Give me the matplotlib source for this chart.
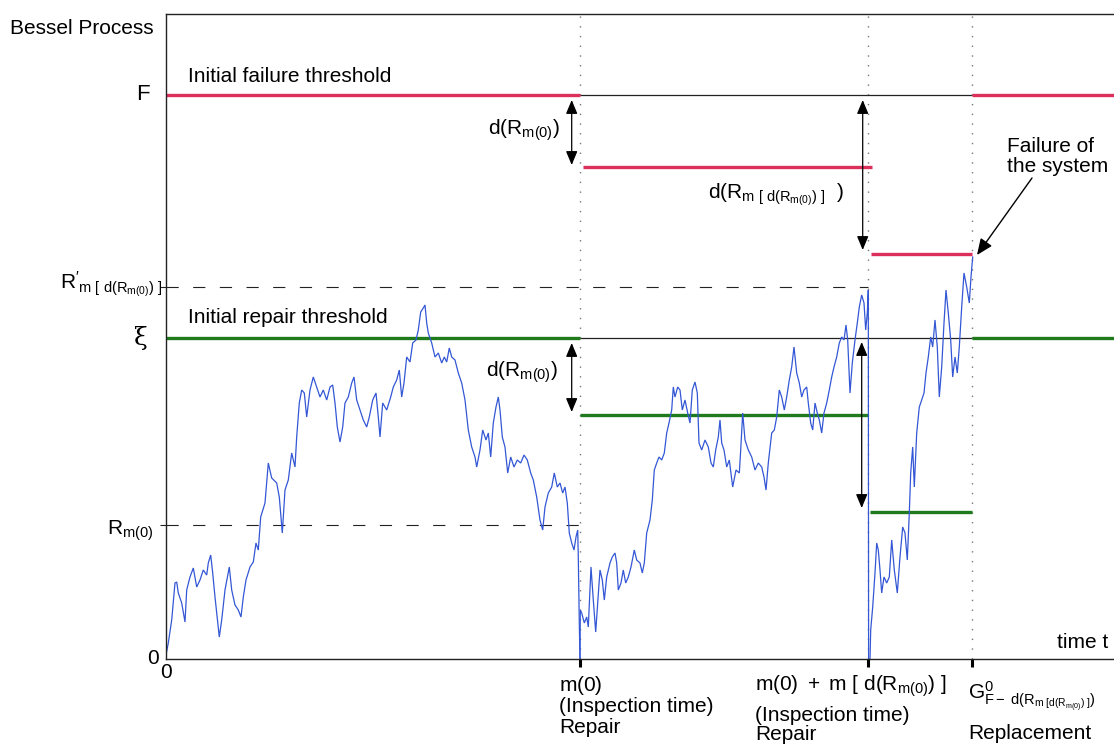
import matplotlib
matplotlib.use("Agg")
import matplotlib.pyplot as plt

plt.rcParams['font.family'] = ['Liberation Sans', 'DejaVu Sans']
plt.rcParams['mathtext.fontset'] = 'custom'
plt.rcParams['mathtext.rm'] = 'Liberation Sans'
plt.rcParams['mathtext.it'] = 'Liberation Sans:italic'
plt.rcParams['mathtext.bf'] = 'Liberation Sans:bold'

# ---------------- data (time, process value) ----------------
seg1_t = [0, 2.3, 5.7, 9, 10.7, 12.3, 15.7, 19, 20.7, 24, 27.3, 30.7, 34, 37.3, 40.7, 42.3, 44.7, 46.7,
          49, 51.3, 53.3, 55.7, 59, 63.3, 65.7, 69, 72.3, 75, 77.3, 80, 84, 87.3, 90, 92.3, 94.7, 99,
          102.3, 105.7, 110.7, 113.3, 116.3, 119, 122.3, 125.7, 129, 130.7, 133.3, 135.7, 138.3,
          140.7, 144, 147.3, 150.7, 154, 157.3, 160.7, 164, 166.7, 169,
          171.3, 174, 176.7, 179, 182.3, 185.7, 188, 190.7, 194, 197.3,
          200.7, 203.3, 206.7, 210, 212.3, 214, 216.7, 220.7, 224.7, 227.3,
          230.7, 233.3, 235.7, 238, 240.7, 244, 246.7, 250, 252.3, 254.7,
          257.3, 259, 260.7, 262.3, 265.7, 269, 272.3, 275.7, 278.3,
          280.7, 283.3, 285.7, 289, 292.3, 295.7, 299, 302.3, 305.7, 309,
          310.7, 314, 316.7, 320, 322.3, 324.7, 327.3, 330, 332.3, 334,
          336.3, 339, 341.7, 344.7, 348, 351.3, 354.7, 358, 361.3, 364.7,
          367.3, 370.7, 374, 376.7, 379, 382.3, 385.7, 388.3, 391.3, 394,
          396.7, 399, 401.3, 403.3, 405.7, 408, 410, 411.7, 412.3, 413.3, 414]
seg1_v = [4, 16, 39, 76, 77, 66, 56, 37, 69, 82, 91, 72, 79, 89, 84, 96, 104, 86,
          62, 41, 22, 39, 69, 92, 69, 54, 49, 42, 62, 79, 92, 97, 116, 109, 142, 156,
          196, 181, 176, 162, 126, 169, 179, 206, 192, 222, 256, 269, 266,
          242, 269, 282, 272, 262, 269, 259, 272, 274, 256,
          232, 217, 232, 256, 262, 276, 282, 259, 249, 239,
          232, 242, 259, 266, 242, 222, 256, 249, 262, 272,
          279, 289, 262, 276, 302, 297, 316, 319, 329, 347,
          351, 354, 336, 326, 316, 302, 306, 296, 302,
          297, 311, 302, 299, 286, 276, 259, 229, 212, 202,
          192, 209, 229, 219, 226, 202, 236, 252, 262, 249,
          222, 212, 186, 202, 192, 199, 196, 204, 199, 186,
          179, 162, 139, 129, 152, 166, 172, 186, 172, 176,
          166, 172, 156, 126, 116, 109, 122, 129, 102, 36, 0]

seg2_t = [414, 414.3, 415.7, 418.3, 420.7, 422.3, 425, 427.3, 429.7, 431.7, 434, 436.3, 438.3, 440.7,
          444, 446.3, 449, 450.7, 452.3, 455, 457.3, 459.7, 462.3, 465, 468.3, 470.7, 474, 476.3,
          478.3, 480.7, 484, 486.3, 488.3, 490.7, 493, 495.7, 498.3, 500.7, 503, 505.7, 507.3, 509,
          511.7, 514, 516.3, 519, 521.7, 524, 526.3, 529, 531.3, 533, 535.7, 539, 542.3, 545, 547.3,
          549.7, 552.3, 554, 555.7, 558, 560.7, 563.3, 566.7, 570, 573.3, 574.7, 576.7, 579, 582.3,
          585.7, 589, 592.3, 595.7, 598, 600, 602.3, 605.7, 608.3, 610.7, 613.3, 615.7, 618.3, 620.7,
          623.3, 625.7, 628, 630.7, 633.3, 635.7, 638, 640.7, 642.3, 644.7, 646.7, 649, 651.3, 653.3,
          655.7, 658, 660.7, 663.3, 665.7, 668, 670.7, 673.3, 675.7, 678, 680, 681.7, 684, 686.3,
          689, 691.3, 693.3, 695.7, 698, 699.7, 701.3, 702.3, 702.6]
seg2_v = [0, 49, 46, 36, 42, 32, 92, 59, 27, 56, 89, 79, 59, 82,
          96, 102, 106, 96, 69, 76, 89, 76, 82, 92, 109, 99, 96, 86,
          96, 126, 139, 159, 189, 196, 202, 199, 206, 226, 236, 249, 272, 262,
          272, 269, 249, 259, 246, 236, 269, 277, 266, 216, 209, 219, 212, 196, 192,
          209, 222, 239, 216, 209, 192, 199, 172, 189, 186, 209, 246, 219, 209,
          202, 189, 196, 192, 182, 169, 196, 226, 229, 242, 269, 262, 249, 262,
          279, 292, 312, 286, 276, 262, 269, 272, 256, 236, 229, 256, 246, 239,
          226, 246, 256, 269, 282, 292, 302, 316, 322, 319, 334, 319, 266, 296,
          319, 336, 352, 364, 356, 329, 346, 369, 0]

seg3_t = [704, 704.7, 706.7, 709, 710.7, 712.3, 714, 715.7, 718, 720.7, 723.3, 725.7, 728.3, 731.3,
          734, 736.7, 739, 741.3, 743.3, 744.7, 746.7, 748.3, 750.7, 753.3, 755.7, 758, 760, 762.3,
          764.7, 766.7, 769, 771.3, 773.3, 775.7, 778, 780, 782.3, 784.7, 786.7, 789, 791.3, 793.3,
          795.7, 798, 800.7, 803.3, 805, 806.7]
seg3_v = [0, 29, 52, 86, 116, 109, 89, 66, 82, 76, 82, 119, 89, 66,
          102, 132, 126, 99, 146, 186, 212, 172, 226, 252, 259, 266, 286, 302,
          322, 312, 339, 312, 262, 292, 336, 369, 346, 319, 282, 302, 286, 312,
          352, 386, 372, 356, 382, 402]

# thresholds / levels
FAIL, FAIL_1, FAIL_2 = 564, 492, 405
XI, XI_1, XI_2 = 321, 244, 147
R_PRIME, R_M0 = 372, 134
T_INSP1, T_INSP2, T_REPL, T_END = 414, 702.5, 806.5, 948
Y_TOP = 645

BLUE = '#3457d5'
RED = '#dc2f5c'
GREEN = '#1f7a1c'
FS = 15

fig = plt.figure(figsize=(11.14, 7.45), dpi=100)
ax = fig.add_axes([0.14901, 0.11544, 0.85099, 0.86577])
ax.set_xlim(0, T_END)
ax.set_ylim(0, Y_TOP)
ax.spines['right'].set_visible(False)
for s in ['left', 'top', 'bottom']:
    ax.spines[s].set_linewidth(1.0)
    ax.spines[s].set_color('#222222')

ax.set_xticks([T_INSP1, T_INSP2, T_REPL])
ax.set_xticklabels([])
ax.tick_params(axis='x', direction='out', length=6, width=2.2, color='black')
ax.set_yticks([R_M0, R_PRIME])
ax.set_yticklabels([])
ax.tick_params(axis='y', direction='out', length=4, width=0.8, color='#222222')

# dotted verticals
ax.vlines([T_INSP1, T_INSP2, T_REPL], 0, Y_TOP, color='#777777', lw=1.0,
          linestyles=[(0, (1, 6))])

# dashed levels
ax.hlines(R_PRIME, 0, T_INSP2, color='#222222', lw=0.8, linestyles=[(0, (11, 13))])
ax.hlines(R_M0, 0, T_INSP1, color='#222222', lw=0.8, linestyles=[(0, (11, 13))])

# thin reference lines
ax.hlines(FAIL, T_INSP1, T_REPL, color='#222222', lw=0.9)
ax.hlines(XI, T_INSP1, T_REPL, color='#222222', lw=0.9)

# failure thresholds
ax.hlines(FAIL, 0, T_INSP1, color=RED, lw=2.4)
ax.hlines(FAIL, T_REPL, T_END, color=RED, lw=2.4)
ax.hlines(FAIL_1, T_INSP1 + 3, T_INSP2 + 4, color=RED, lw=2.4)
ax.hlines(FAIL_2, T_INSP2 + 3, T_REPL, color=RED, lw=2.4)

# repair thresholds
ax.hlines(XI, 0, T_INSP1, color=GREEN, lw=2.4)
ax.hlines(XI, T_REPL, T_END, color=GREEN, lw=2.4)
ax.hlines(XI_1, T_INSP1, T_INSP2, color=GREEN, lw=2.4)
ax.hlines(XI_2, T_INSP2 + 2, T_REPL, color=GREEN, lw=2.4)

# process
for t, v in [(seg1_t, seg1_v), (seg2_t, seg2_v), (seg3_t, seg3_v)]:
    ax.plot(t, v, color=BLUE, lw=0.9, solid_joinstyle='miter')

# double arrows
astyle = dict(arrowstyle='<|-|>,head_length=0.6,head_width=0.25', color='black', lw=0.9,
              mutation_scale=14, shrinkA=0, shrinkB=0)
ax.annotate('', xy=(405.7, FAIL_1 + 2), xytext=(405.7, FAIL - 5), arrowprops=astyle)
ax.annotate('', xy=(696.7, FAIL_2 + 4), xytext=(696.7, FAIL - 5), arrowprops=astyle)
ax.annotate('', xy=(405.7, XI_1 + 3), xytext=(405.7, XI - 5), arrowprops=astyle)
ax.annotate('', xy=(695.7, XI_2 + 4), xytext=(695.7, XI - 4), arrowprops=astyle)

# failure arrow
ax.annotate('', xy=(811, 404), xytext=(866, 481),
            arrowprops=dict(arrowstyle='-|>,head_length=0.7,head_width=0.3', color='black',
                            lw=1.0, mutation_scale=14, shrinkA=0, shrinkB=0))

# texts
fig.text(10 / 1114, 1 - 29 / 745, 'Bessel Process', fontsize=FS, ha='left', va='center')
ax.text(22, 582, 'Initial failure threshold', fontsize=FS, ha='left', va='center')
ax.text(22, 341, 'Initial repair threshold', fontsize=FS, ha='left', va='center')
ax.text(-16, FAIL, 'F', fontsize=FS + 1, ha='right', va='center', clip_on=False)
ax.text(-25, XI, 'ξ', fontsize=FS + 3, ha='center', va='center', family='DejaVu Serif', clip_on=False)
ax.text(-4, 370, r"$\mathrm{R'_{m\ [\ d(R_{m(0)})\ ]}}$", fontsize=FS, ha='right', va='baseline', clip_on=False)
ax.text(-59, 124, r"$\mathrm{R_{m(0)}}$", fontsize=FS, ha='left', va='baseline', clip_on=False)
ax.text(-13, 0, '0', fontsize=FS, ha='center', va='center', clip_on=False)
ax.text(0, -14, '0', fontsize=FS, ha='center', va='center', clip_on=False)
ax.text(942, 16, 'time t', fontsize=FS, ha='right', va='center')

ax.text(394, 524, r"$\mathrm{d(R_{m(0)})}$", fontsize=FS, ha='right', va='baseline')
ax.text(542, 461, r"$\mathrm{d(R_{m\ [\ d(R_{m(0)})\ ]}\ \ )}$", fontsize=FS, ha='left', va='baseline')
ax.text(392, 282, r"$\mathrm{d(R_{m(0)})}$", fontsize=FS, ha='right', va='baseline')
ax.text(841, 507, 'Failure of', fontsize=FS, ha='left', va='baseline')
ax.text(841, 487, 'the system', fontsize=FS, ha='left', va='baseline')

# x labels
ax.text(393, -32, r"$\mathrm{m(0)}$", fontsize=FS, ha='left', va='baseline', clip_on=False)
ax.text(393, -48, '(Inspection time)', fontsize=FS, ha='left', va='center', clip_on=False)
ax.text(393, -69, 'Repair', fontsize=FS, ha='left', va='center', clip_on=False)

ax.text(589, -32, r"$\mathrm{m(0)\ +\ m\ [\ d(R_{m(0)})\ ]}$", fontsize=FS, ha='left', va='baseline', clip_on=False)
ax.text(589, -57, '(Inspection time)', fontsize=FS, ha='left', va='center', clip_on=False)
ax.text(589, -76, 'Repair', fontsize=FS, ha='left', va='center', clip_on=False)

ax.text(802, -40, r"$\mathrm{G^{0}_{F-\ d(R_{m\ [d(R_{m(0)})\ ]})}}$", fontsize=FS, ha='left', va='baseline', clip_on=False)
ax.text(802, -75, 'Replacement', fontsize=FS, ha='left', va='center', clip_on=False)

fig.savefig('out.png', dpi=100)
